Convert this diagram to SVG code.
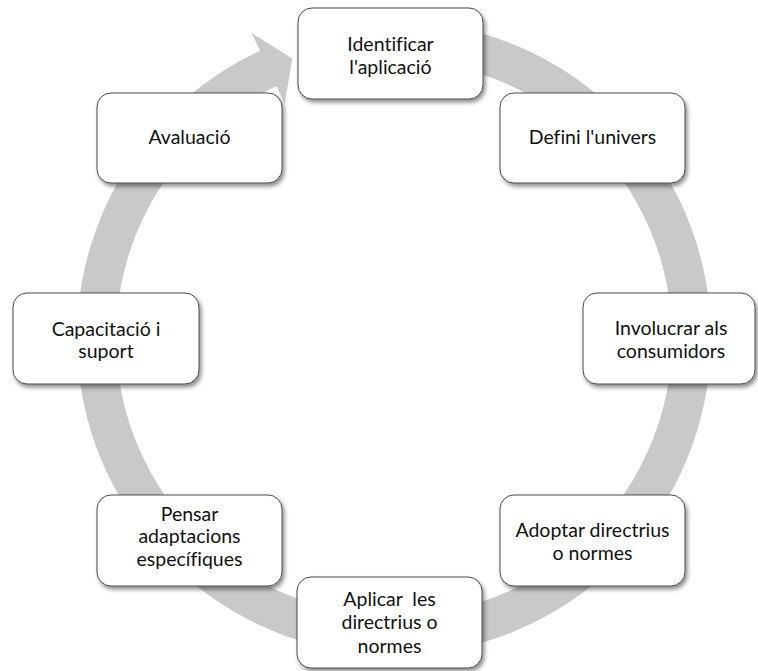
<svg xmlns="http://www.w3.org/2000/svg" width="758" height="671" viewBox="0 0 758 671">
  <defs>
    <filter id="boxShadow" x="-10%" y="-10%" width="125%" height="130%">
      <feDropShadow dx="2" dy="3" stdDeviation="2" flood-color="#000" flood-opacity="0.45"/>
    </filter>
    <filter id="ringSoft" x="-5%" y="-5%" width="110%" height="110%">
      <feGaussianBlur stdDeviation="0.6"/>
    </filter>
  </defs>
  <style>
    .box { fill: #ffffff; stroke: #4a4a4a; stroke-width: 1; filter: url(#boxShadow); }
    .label { font-family: Lato, "Open Sans", "Liberation Sans", sans-serif; font-size: 19.5px; fill: #111111; text-anchor: middle; font-variant-ligatures: none; }
    .ring { fill: #c9c9c9; }
  </style>
  <rect width="758" height="671" fill="#ffffff"/>

  <!-- circular arrow running clockwise behind the steps -->
  <g id="connectors">
    <path class="ring" filter="url(#ringSoft)" d="M 328.09 27.93 A 317 317 0 1 1 260.03 50.70 L 251.79 33.03 L 292.25 58.44 L 284.75 103.72 L 276.51 86.05 A 278 278 0 1 0 336.20 66.07 Z"/>
  </g>

  <g id="node-identificar">
    <rect class="box" x="298" y="8" width="185" height="91" rx="14"/>
    <text class="label" x="390.5" y="50.5">Identificar</text>
    <text class="label" x="390.5" y="73.5">l'aplicació</text>
  </g>

  <g id="node-definir">
    <rect class="box" x="500" y="93" width="185" height="90" rx="14"/>
    <text class="label" x="592.5" y="144">Defini l'univers</text>
  </g>

  <g id="node-involucrar">
    <rect class="box" x="583" y="293" width="172" height="91" rx="14"/>
    <text class="label" x="671" y="335">Involucrar als</text>
    <text class="label" x="671" y="357.5">consumidors</text>
  </g>

  <g id="node-adoptar">
    <rect class="box" x="500" y="495" width="185" height="91" rx="14"/>
    <text class="label" x="592.5" y="537">Adoptar directrius</text>
    <text class="label" x="592.5" y="560">o normes</text>
  </g>

  <g id="node-aplicar">
    <rect class="box" x="297" y="577" width="185" height="91" rx="14"/>
    <text class="label" x="389.5" y="606" xml:space="preserve">Aplicar  les</text>
    <text class="label" x="389.5" y="629.3">directrius o</text>
    <text class="label" x="389.5" y="652.6">normes</text>
  </g>

  <g id="node-pensar">
    <rect class="box" x="97" y="495" width="185" height="91" rx="14"/>
    <text class="label" x="189.5" y="520.7">Pensar</text>
    <text class="label" x="189.5" y="543.3">adaptacions</text>
    <text class="label" x="189.5" y="566">específiques</text>
  </g>

  <g id="node-capacitacio">
    <rect class="box" x="13" y="293" width="186" height="91" rx="14"/>
    <text class="label" x="106" y="335.5">Capacitació i</text>
    <text class="label" x="106" y="358">suport</text>
  </g>

  <g id="node-avaluacio">
    <rect class="box" x="97" y="93" width="185" height="90" rx="14"/>
    <text class="label" x="189.5" y="144">Avaluació</text>
  </g>
</svg>
